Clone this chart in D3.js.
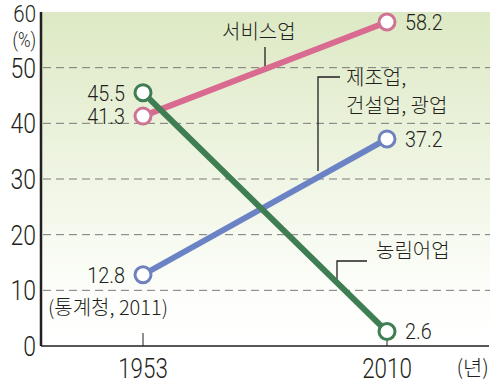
<!DOCTYPE html>
<html>
<head>
<meta charset="utf-8">
<title>산업별 취업자 비중</title>
<script src="https://d3js.org/d3.v7.min.js"></script>
<style>
  body { margin: 0; background: #fff; }
  text { fill: #231f20; }
  .num { font-family: Roboto, "Liberation Sans", Arial, sans-serif; font-weight: 300; }
  .kr { font-family: "Noto Sans CJK KR", sans-serif; font-weight: 300; }
</style>
</head>
<body>
<div id="chart"></div>
<script>
// data
var years = [1953, 2010];
var seriesNames = ["서비스업", "제조업, 건설업, 광업", "농림어업"];
var service = [41.3, 58.2];
var industry = [12.8, 37.2];
var farming = [45.5, 2.6];
var yTicks = [0, 10, 20, 30, 40, 50, 60];

var width = 492, height = 386;
var svg = d3.select("#chart").append("svg")
  .attr("width", width)
  .attr("height", height);

var x = d3.scaleLinear().domain([1953, 2010]).range([143, 387]);
var y = d3.scaleLinear().domain([0, 60]).range([346, 12]);

// condensed number text: placed by transform so it can be squeezed
function numText(sel, px, py, sx, size, anchor, str) {
  return sel.append("text")
    .attr("class", "num")
    .attr("transform", "translate(" + px + "," + py + ") scale(" + sx + ",1)")
    .attr("dy", "0.36em")
    .attr("text-anchor", anchor)
    .style("font-size", size + "px")
    .text(str);
}

// background gradient
var grad = svg.append("defs").append("linearGradient")
  .attr("id", "bg").attr("x1", 0).attr("y1", 0).attr("x2", 0).attr("y2", 1);
grad.append("stop").attr("offset", "0%").attr("stop-color", "#dde9c4");
grad.append("stop").attr("offset", "85%").attr("stop-color", "#fdfefb");
grad.append("stop").attr("offset", "100%").attr("stop-color", "#ffffff");

svg.append("rect")
  .attr("x", 42).attr("y", y(60))
  .attr("width", 448).attr("height", y(0) - y(60))
  .attr("fill", "url(#bg)");

// grid lines
svg.selectAll(".grid").data(yTicks.filter(d => d > 0 && d < 60))
  .enter().append("line")
  .attr("x1", 43).attr("x2", 490)
  .attr("y1", d => y(d)).attr("y2", d => y(d))
  .attr("stroke", "#7a7a7a").attr("stroke-width", 1)
  .attr("stroke-dasharray", "8,5");

// y tick labels
yTicks.forEach(function(d) {
  if (d == 60) numText(svg, 36, 13.5, 0.85, 24, "end", d);
  else numText(svg, 36, y(d), 0.82, 28, "end", d);
});
numText(svg, 36, 40, 0.85, 20, "end", "(%)");

// axes
svg.append("line")
  .attr("x1", 41).attr("x2", 41).attr("y1", y(60)).attr("y2", y(0))
  .attr("stroke", "#231f20").attr("stroke-width", 2.5);
svg.append("line")
  .attr("x1", 41).attr("x2", 489).attr("y1", y(0)).attr("y2", y(0))
  .attr("stroke", "#231f20").attr("stroke-width", 1.5);

svg.selectAll(".tick").data(years)
  .enter().append("line")
  .attr("x1", d => x(d)).attr("x2", d => x(d))
  .attr("y1", y(0) - 13).attr("y2", y(0))
  .attr("stroke", "#231f20").attr("stroke-width", 1);

years.forEach(function(d) {
  numText(svg, x(d), 368, 0.8, 28, "middle", d);
});

svg.append("text").attr("class", "kr")
  .attr("x", 489).attr("y", 367).attr("dy", "0.36em")
  .attr("text-anchor", "end")
  .style("font-size", "21px")
  .text("(년)");

// leader lines for the series names
var leader = d3.line();
svg.append("path")
  .attr("d", leader([[265, 47], [265, 68]]))
  .attr("fill", "none").attr("stroke", "#231f20").attr("stroke-width", 1.3);
svg.append("path")
  .attr("d", leader([[340, 77], [318, 77], [318, 171]]))
  .attr("fill", "none").attr("stroke", "#231f20").attr("stroke-width", 1.3);
svg.append("path")
  .attr("d", leader([[367, 261], [337, 261], [337, 280]]))
  .attr("fill", "none").attr("stroke", "#231f20").attr("stroke-width", 1.3);

// series
var series = [
  { name: seriesNames[0], values: service, color: "#d96b90", ring: "#cf7394" },
  { name: seriesNames[1], values: industry, color: "#6b83c5", ring: "#6f82be" },
  { name: seriesNames[2], values: farming, color: "#3f7e52", ring: "#3f7e52" }
];

var line = d3.line().x((d, i) => x(years[i])).y(d => y(d));

svg.selectAll(".series").data(series)
  .enter().append("path")
  .attr("d", d => line(d.values))
  .attr("fill", "none")
  .attr("stroke", d => d.color)
  .attr("stroke-width", 6);

series.forEach(function(s) {
  svg.selectAll(null).data(s.values)
    .enter().append("circle")
    .attr("cx", (d, i) => x(years[i]))
    .attr("cy", d => y(d))
    .attr("r", 8)
    .attr("fill", "#fff")
    .attr("stroke", s.ring)
    .attr("stroke-width", 3);

  s.values.forEach(function(d, i) {
    var px = i == 0 ? x(years[i]) - 18 : x(years[i]) + 18;
    numText(svg, px, y(d), 0.9, 22, i == 0 ? "end" : "start", d.toFixed(1));
  });
});

// series names
svg.append("text").attr("class", "kr")
  .attr("x", 222).attr("y", 32).attr("dy", "0.36em")
  .style("font-size", "20px").text("서비스업");
svg.append("text").attr("class", "kr")
  .attr("x", 346).attr("y", 78).attr("dy", "0.36em")
  .style("font-size", "20px").text("제조업,");
svg.append("text").attr("class", "kr")
  .attr("x", 346).attr("y", 106).attr("dy", "0.36em")
  .style("font-size", "20px").text("건설업, 광업");
svg.append("text").attr("class", "kr")
  .attr("x", 376).attr("y", 251).attr("dy", "0.36em")
  .style("font-size", "20px").text("농림어업");

// source
svg.append("text").attr("class", "kr")
  .attr("x", 48).attr("y", 308).attr("dy", "0.36em")
  .style("font-size", "20px").text("(통계청, 2011)");
</script>
</body>
</html>
